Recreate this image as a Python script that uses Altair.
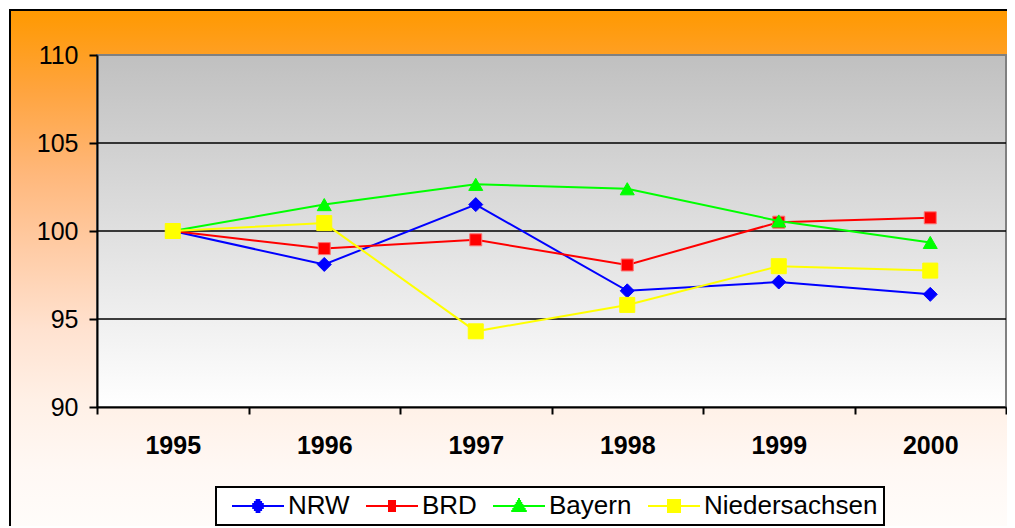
import altair as alt
import pandas as pd

years = ["1995", "1996", "1997", "1998", "1999", "2000"]
series = ["NRW", "BRD", "Bayern", "Niedersachsen"]
nrw = [100.0, 98.1, 101.5, 96.6, 97.1, 96.4]
brd = [100.0, 99.0, 99.5, 98.07, 100.5, 100.75]
bayern = [100.0, 101.5, 102.65, 102.4, 100.57, 99.35]
nieder = [100.0, 100.45, 94.3, 95.8, 98.0, 97.75]
y_ticks = [90, 95, 100, 105, 110]
grid_vals = [95, 100, 105]

colors = ["#0000FF", "#FF0000", "#00FF00", "#FFFF00"]
shapes = ["diamond", "square", "triangle-up", "square"]
sizes = [196, 144, 196, 225]
outlines = ["#0000FF", "#FF7070", "#00FF00", "#FFFF00"]


# legend glyphs (line + marker), drawn with strokes only; unit = 10 px
def _h(y, hw):
    return f"M{-hw / 10:.2f},{y / 10:.2f}H{hw / 10:.2f}"


def _v(x, hh):
    return f"M{x / 10:.2f},{-hh / 10:.2f}V{hh / 10:.2f}"


LINE = "M-2.6,0H2.6"
diamond_glyph = LINE + "".join(_h(y, 7 * (1 - abs(y) / 8) + 0.6) for y in [-6, -4, -2, 0, 2, 4, 6])
square_glyph = LINE + "".join(_v(x, 6) for x in [-3, -1, 1, 3])
triangle_glyph = LINE + "".join(_h(y, 8 * (y + 8) / 14 + 0.4) for y in [-7, -5, -3, -1, 1, 3, 5])
big_square_glyph = LINE + "".join(_v(x, 7) for x in [-6, -4, -2, 0, 2, 4, 6])
legend_paths = [diamond_glyph, square_glyph, triangle_glyph, big_square_glyph]

rows = []
for name, vals in zip(series, [nrw, brd, bayern, nieder]):
    for yr, v in zip(years, vals):
        rows.append({"year": yr, "series": name, "value": v})
df = pd.DataFrame(rows)
grid_df = pd.DataFrame({"v": grid_vals})
one = pd.DataFrame({"a": [0]})

W, H = 909, 352
FONT = "Liberation Sans"
FS = 25

yscale = alt.Scale(domain=[90, 110], nice=False, zero=False)
yaxis = alt.Axis(values=y_ticks, grid=False, title=None, domainColor="black", domainWidth=2,
                 tickColor="black", tickWidth=2, tickSize=8, labelPadding=11,
                 labelFontSize=FS, labelFont=FONT, labelColor="black", zindex=1)
xscale = alt.Scale(type="band", domain=years, paddingInner=0, paddingOuter=0)
xaxis = alt.Axis(labelAngle=0, tickBand="extent", tickSize=7, tickWidth=2, tickColor="black",
                 labelPadding=19, labelFontSize=FS, labelFontWeight="bold", labelFont=FONT,
                 labelColor="black", domainColor="black", domainWidth=2, title=None, zindex=1)

orange = alt.Gradient(
    gradient="linear", x1=0, x2=0, y1=0, y2=1,
    stops=[
        alt.GradientStop(offset=0.0, color="#FF9900"),
        alt.GradientStop(offset=0.124, color="#FFA43E"),
        alt.GradientStop(offset=0.257, color="#FFB87C"),
        alt.GradientStop(offset=0.372, color="#FFCCA6"),
        alt.GradientStop(offset=0.496, color="#FFE2D0"),
        alt.GradientStop(offset=0.605, color="#FFF0E6"),
        alt.GradientStop(offset=0.713, color="#FFF8F4"),
        alt.GradientStop(offset=0.803, color="#FFFCFA"),
        alt.GradientStop(offset=1.0, color="#FFFFFF"),
    ])
gray = alt.Gradient(
    gradient="linear", x1=0, x2=0, y1=0, y2=1,
    stops=[alt.GradientStop(offset=0.0, color="#C0C0C0"),
           alt.GradientStop(offset=1.0, color="#FFFFFF")])

frame = alt.Chart(one).mark_rect(fill=orange, stroke="black", strokeWidth=2).encode(
    x=alt.value(-87), x2=alt.value(1000), y=alt.value(-45), y2=alt.value(600))
plotbg = alt.Chart(one).mark_rect(fill=gray, stroke="#808080", strokeWidth=2).encode(
    x=alt.value(0), x2=alt.value(W), y=alt.value(0), y2=alt.value(H))
grid = alt.Chart(grid_df).mark_rule(color="black", strokeWidth=1.6).encode(
    y=alt.Y("v:Q", scale=yscale, axis=yaxis), x=alt.value(0), x2=alt.value(W))

X = alt.X("year:O", scale=xscale, axis=xaxis, sort=years)
Y = alt.Y("value:Q", scale=yscale, axis=yaxis)

series_layers = []
for s, c, sh, sz, oc in zip(series, colors, shapes, sizes, outlines):
    sub = alt.Chart(df).transform_filter(alt.datum.series == s)
    series_layers.append(sub.mark_line(strokeWidth=2, color=c).encode(x=X, y=Y))
    series_layers.append(
        sub.mark_point(filled=True, opacity=1, shape=sh, size=sz, fill=c, stroke=oc,
                       strokeWidth=1).encode(x=X, y=Y)
    )

leg = alt.Legend(title=None)
legend_layer = alt.Chart(df).mark_point(filled=False, opacity=0).encode(
    x=X, y=Y,
    stroke=alt.Stroke("series:N", scale=alt.Scale(domain=series, range=colors), legend=leg),
    shape=alt.Shape("series:N", scale=alt.Scale(domain=series, range=legend_paths), legend=leg))

chart = alt.layer(frame, plotbg, grid, *series_layers, legend_layer).properties(
    width=W, height=H,
    autosize=alt.AutoSizeParams(type="none"),
    padding={"left": 89, "top": 47, "right": 1, "bottom": 119},
    background="white",
).configure_view(stroke=None).configure_legend(
    orient="none", legendX=119, legendY=432, direction="horizontal", columns=4,
    strokeColor="black", strokeWidth=2, fillColor="white", padding=6,
    symbolSize=400, symbolStrokeWidth=2, symbolOffset=23, labelOffset=17,
    columnPadding=6, labelFont=FONT, labelFontSize=26, labelColor="black",
    labelLimit=400, symbolOpacity=1,
)

chart.save("out.html", embed_options={"renderer": "svg", "actions": False})
